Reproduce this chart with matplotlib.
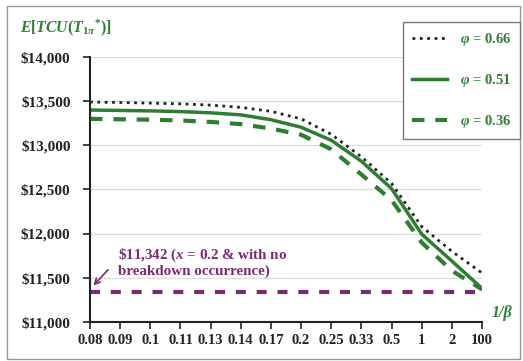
import matplotlib
matplotlib.use("Agg")
import matplotlib.pyplot as plt
from matplotlib.patches import Rectangle
from matplotlib.lines import Line2D

# data
categories = ['0.08', '0.09', '0.1', '0.11', '0.13', '0.14', '0.17',
              '0.2', '0.25', '0.33', '0.5', '1', '2', '100']
phi_066 = [13490, 13485, 13478, 13470, 13455, 13430, 13385,
           13300, 13125, 12870, 12570, 12080, 11800, 11555]
phi_051 = [13400, 13395, 13390, 13382, 13368, 13345, 13290,
           13205, 13057, 12820, 12510, 11995, 11690, 11380]
phi_036 = [13300, 13295, 13290, 13282, 13265, 13240, 13190,
           13120, 12955, 12670, 12380, 11900, 11580, 11370]
base_value = 11342

green = '#2e7d32'
purple = '#7a2a70'

plt.rcParams['font.family'] = 'Liberation Serif'
plt.rcParams['mathtext.fontset'] = 'custom'
plt.rcParams['mathtext.rm'] = 'Liberation Serif:bold'
plt.rcParams['mathtext.it'] = 'Liberation Serif:italic:bold'
plt.rcParams['mathtext.bf'] = 'Liberation Serif:bold'

fig = plt.figure(figsize=(5.23, 3.61), dpi=100)
ax = fig.add_axes([90/523, 1 - 322/361, 392/523, 265/361])

x = range(len(categories))
ax.plot(x, [base_value]*len(categories), color=purple, lw=3, dashes=(2.4, 2.6))
ax.plot(x, phi_036, color=green, lw=3, dashes=(3, 2.6))
ax.plot(x, phi_051, color=green, lw=2.5)
ax.plot(x, phi_066, color='#222222', lw=2, linestyle=':')

ax.set_xlim(0, 13)
ax.set_ylim(11000, 14000)
ax.set_xticks(list(x))
ax.set_xticklabels(categories, fontsize=10.5, fontweight='bold')
yticks = [11000, 11500, 12000, 12500, 13000, 13500, 14000]
ax.set_yticks(yticks)
ax.set_yticklabels(['${:,}'.format(v) for v in yticks], fontsize=11, fontweight='bold')
ax.tick_params(axis='y', length=5, width=1.2, pad=9, colors='#222222')
ax.tick_params(axis='x', length=5, width=1.2, pad=4, colors='#222222')
ax.grid(axis='y', color='#dddddd', lw=1)
ax.set_axisbelow(True)
for s in ['top', 'right']:
    ax.spines[s].set_visible(False)
for s in ['left', 'bottom']:
    ax.spines[s].set_linewidth(1.5)
    ax.spines[s].set_color('#222222')

# annotation
ax.text(0.93, 11680, '\\$11,342 ($x$ = 0.2 & with no\nbreakdown occurrence)',
        color=purple, fontsize=10.8, fontweight='bold', ha='left', va='center',
        linespacing=1.05)
ax.annotate('', xy=(0.05, 11390), xytext=(0.66, 11614),
            arrowprops=dict(arrowstyle='->', color=purple, lw=1.2))

# axis titles
fig.text(20/523, 1 - 28/361, r'$E[TCU(T_{1\pi}{}^{*})]$', color=green,
         fontsize=11.3, ha='left', va='center')
fig.text(492/523, 1 - 313/361, '1/β', color=green, fontsize=11.5,
         fontweight='bold', fontstyle='italic', ha='left', va='center')

# legend
handles = [Line2D([], [], color='#222222', lw=2, linestyle=':'),
           Line2D([], [], color=green, lw=2.5),
           Line2D([], [], color=green, lw=3, dashes=(3, 2.6))]
labels = [r'$\varphi$ = 0.66', r'$\varphi$ = 0.51', r'$\varphi$ = 0.36']
leg = fig.legend(handles, labels, loc='upper left',
                 bbox_to_anchor=(403/523, 1 - 22/361), frameon=True,
                 fancybox=False, framealpha=1, edgecolor='#777777',
                 handlelength=2.4, handletextpad=0.9, labelspacing=1.65,
                 borderpad=0.6, borderaxespad=0,
                 prop={'size': 10.5, 'weight': 'bold'})
for t in leg.get_texts():
    t.set_color(green)

fig.patches.append(Rectangle((7/523, 2/361), 513/523, 353/361,
                             transform=fig.transFigure, fill=False,
                             edgecolor='#999999', lw=1))

fig.savefig('out.png', dpi=100)
